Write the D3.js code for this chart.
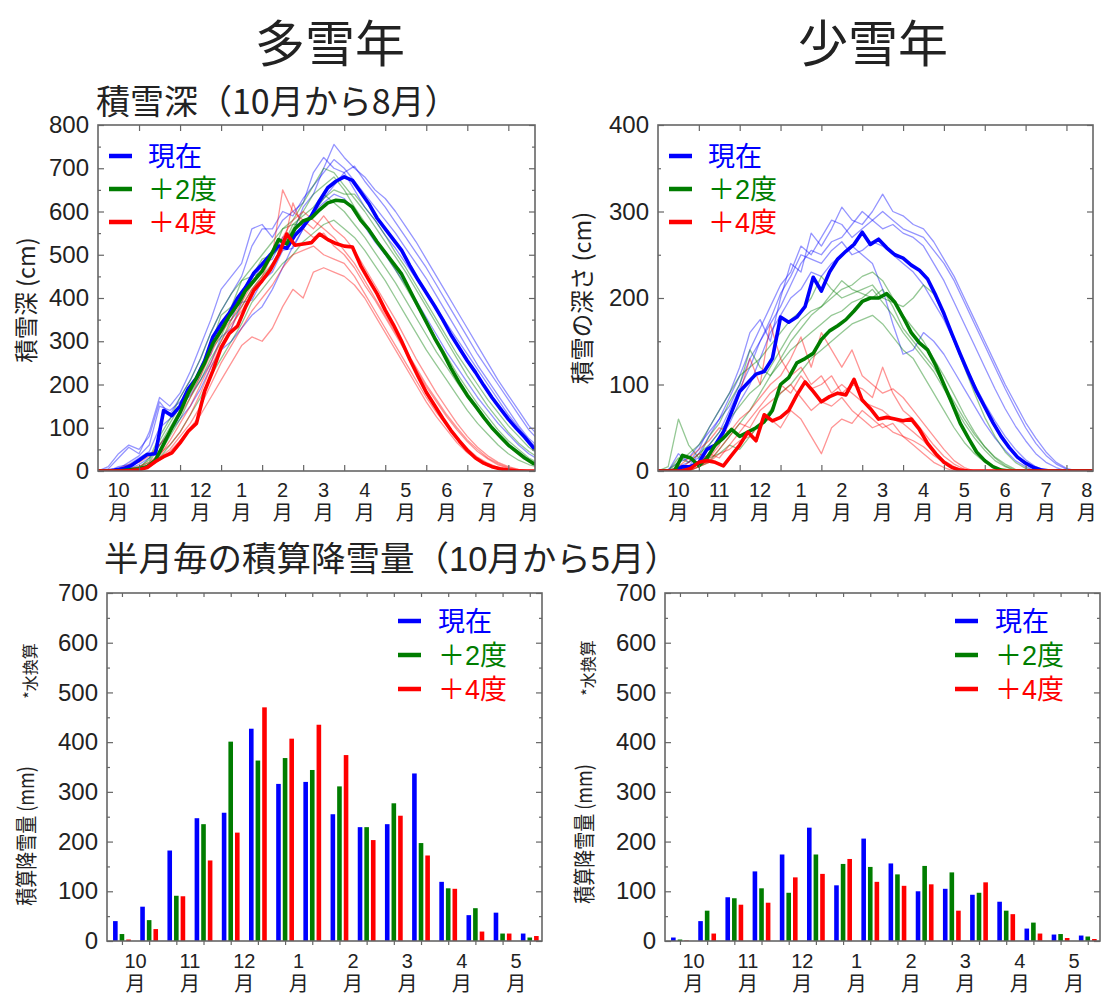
<!DOCTYPE html>
<html lang="ja">
<head>
<meta charset="utf-8">
<script src="https://cdn.jsdelivr.net/npm/d3@7"></script>
<style>
  body { margin: 0; background: #fff; }
  svg text { font-family: "Noto Sans CJK JP", sans-serif; fill: #222; }
  svg text.num { font-family: "Liberation Sans", "Noto Sans CJK JP", sans-serif; }
</style>
</head>
<body>
<svg id="chart" width="1104" height="1001" lang="ja"></svg>
<script>
// ---- Labels -------------------------------------------------------------
const SCENARIOS = ["現在", "＋2度", "＋4度"];
const DEPTH_MONTHS = ["10", "11", "12", "1", "2", "3", "4", "5", "6", "7", "8"];
const SNOWFALL_MONTHS = ["10", "11", "12", "1", "2", "3", "4", "5"];

// ---- Snow depth (cm); x is months after 1 Oct -----------------------------
const MEMBER_STEP = 0.25; // month spacing of ensemble-member samples
const MEAN_STEP = 0.2;    // month spacing of ensemble-mean samples

// Heavy-snow year, ensemble means
const HEAVY_MEAN_NOW = [0,0,2,5,12,25,38,40,140,128,150,190,215,255,310,340,365,400,425,458,478,500,520,515,545,565,590,625,655,670,680,672,645,618,585,560,535,510,475,442,412,382,350,315,285,255,228,198,170,145,120,98,78,55,40];
const HEAVY_MEAN_P2 = [0,0,0,1,3,5,10,25,62,100,135,180,215,250,295,325,358,385,418,440,462,496,535,525,560,578,585,604,620,626,624,610,580,558,530,505,480,455,418,381,345,308,275,238,205,175,150,124,100,80,60,45,30,18,12];
const HEAVY_MEAN_P4 = [0,0,0,0,1,3,8,22,33,42,65,92,110,185,232,285,318,335,380,418,440,465,500,548,522,525,528,548,535,526,520,518,475,442,410,372,338,300,258,219,182,152,122,94,70,48,30,18,10,5,2,0,0,0,0];

// Heavy-snow year, ensemble members
const HEAVY_MEMBERS_NOW = [
  [0,0,5,20,35,60,150,140,160,185,240,270,340,350,410,430,480,490,540,550,610,640,700,755,725,700,680,650,630,600,565,530,490,450,410,370,330,290,250,210,175,140,105,80],
  [0,5,30,55,40,90,170,150,180,230,290,350,420,450,480,560,570,540,580,600,620,690,725,700,690,650,610,580,545,515,480,445,410,375,340,305,270,235,200,165,130,100,70,50],
  [0,0,10,15,30,45,100,120,150,175,210,250,310,330,390,395,440,460,510,515,560,600,630,660,690,705,670,640,610,575,540,505,470,430,390,350,310,270,235,200,165,130,95,70],
  [0,0,0,5,15,30,60,90,120,150,190,240,280,300,330,360,380,420,470,520,560,600,620,640,630,600,565,530,500,465,430,395,355,315,275,240,205,170,140,110,85,60,40,25],
  [0,10,40,60,50,80,160,130,170,210,260,320,370,410,450,520,560,560,600,590,630,660,690,720,700,670,640,610,580,550,515,480,445,405,365,325,285,245,210,175,140,105,75,55]
];
const HEAVY_MEMBERS_P2 = [
  [0,0,0,5,10,25,70,110,150,190,240,290,360,380,440,450,490,500,560,580,620,660,700,690,660,630,600,565,530,495,460,420,380,340,300,260,220,185,150,120,90,65,45,30],
  [0,0,0,0,5,15,40,80,120,170,210,260,300,350,380,420,450,480,520,560,600,640,660,680,650,610,575,540,500,465,425,385,345,305,265,225,190,155,125,95,70,50,30,18],
  [0,0,0,0,0,10,30,60,90,130,170,220,260,300,340,390,420,450,480,500,530,550,570,580,560,540,510,475,440,400,360,320,280,245,210,175,140,110,85,60,40,25,15,8],
  [0,0,0,2,8,20,60,100,140,180,220,280,310,370,390,450,460,500,520,570,570,600,630,650,640,640,610,580,545,505,470,430,390,350,310,270,235,200,165,135,105,80,55,38],
  [0,0,0,3,6,30,80,120,170,210,260,320,370,410,440,470,500,530,560,570,590,610,640,620,600,570,540,505,470,435,395,355,315,275,240,205,170,140,110,85,62,42,27,15]
];
const HEAVY_MEMBERS_P4 = [
  [0,0,0,5,10,20,40,60,90,130,180,240,290,330,380,420,450,500,650,600,580,560,590,560,540,510,470,430,390,350,305,260,220,180,145,110,80,55,35,20,10,4,0,0],
  [0,0,0,0,2,10,25,45,70,100,130,170,210,250,290,310,300,330,380,420,400,460,470,460,450,430,400,360,320,280,240,200,160,125,95,65,42,25,12,5,0,0,0,0],
  [0,0,5,15,20,35,60,90,130,170,220,270,320,350,390,430,470,510,540,580,600,580,560,540,510,480,440,400,360,320,280,240,200,165,130,100,72,50,30,17,8,3,0,0],
  [0,0,0,2,5,15,30,50,80,110,150,200,250,290,330,370,400,430,470,500,510,520,500,490,480,450,410,370,330,290,250,210,170,135,105,75,52,32,18,8,3,0,0,0],
  [0,0,0,0,3,12,35,70,110,150,200,250,300,340,370,410,440,480,510,620,560,540,550,520,500,470,430,395,355,315,275,235,195,160,125,95,68,45,28,14,6,2,0,0]
];

// Light-snow year, ensemble means
const LIGHT_MEAN_NOW = [0,0,0,5,5,10,25,30,45,68,92,102,112,115,130,178,172,178,190,224,208,230,245,254,262,276,262,268,258,250,246,238,232,222,203,182,158,135,113,92,74,56,40,27,16,9,4,1,0,0,0,0,0,0,0];
const LIGHT_MEAN_P2 = [0,0,0,18,15,6,15,30,38,48,40,45,50,57,70,100,108,125,130,136,152,162,168,175,185,196,200,200,205,195,178,160,148,140,122,100,78,55,38,22,12,5,1,0,0,0,0,0,0,0,0,0,0,0,0];
const LIGHT_MEAN_P4 = [0,0,0,0,3,10,12,10,6,18,30,45,35,65,58,62,70,88,103,92,80,86,90,88,106,82,72,60,62,60,58,60,48,32,20,10,4,1,0,0,0,0,0,0,0,0,0,0,0,0,0,0,0,0,0];

// Light-snow year, ensemble members
const LIGHT_MEMBERS_NOW = [
  [0,0,20,10,25,50,70,90,120,160,175,150,200,240,230,275,260,280,305,290,285,300,320,300,295,285,280,265,245,225,200,175,150,125,100,78,56,38,22,10,3,0,0,0],
  [0,0,5,10,15,30,45,70,95,120,150,170,190,215,240,255,250,265,270,285,300,290,280,285,275,270,260,240,220,195,170,145,120,95,72,52,35,20,10,4,0,0,0,0],
  [0,0,0,5,10,20,35,55,80,100,130,160,180,200,210,230,225,240,250,260,250,240,210,170,135,140,160,150,135,115,95,75,55,38,24,12,5,0,0,0,0,0,0,0],
  [0,0,0,5,20,40,60,85,110,140,165,190,215,230,260,250,270,290,285,270,280,290,300,290,280,275,270,255,240,220,195,170,145,120,95,72,50,32,18,8,2,0,0,0],
  [0,2,10,15,30,45,60,75,100,130,150,175,205,225,250,245,240,255,265,250,255,265,260,250,240,230,215,195,175,150,125,100,78,58,40,25,13,5,0,0,0,0,0,0]
];
const LIGHT_MEMBERS_P2 = [
  [0,5,60,30,15,40,55,80,100,140,120,110,130,150,165,180,190,200,210,215,225,230,220,200,180,165,150,130,110,88,65,45,28,15,6,1,0,0,0,0,0,0,0,0],
  [0,0,10,20,30,50,70,90,110,120,130,145,160,175,185,200,225,210,200,205,210,215,200,195,190,200,215,205,180,150,120,90,62,40,22,10,3,0,0,0,0,0,0,0],
  [0,0,0,5,10,15,20,30,25,40,55,70,90,100,115,130,140,150,160,170,175,180,170,155,140,130,110,90,70,50,33,20,10,4,0,0,0,0,0,0,0,0,0,0],
  [0,0,15,10,20,30,45,60,75,90,100,120,140,160,175,185,190,205,220,210,205,200,210,190,165,150,135,120,100,80,60,42,28,16,8,2,0,0,0,0,0,0,0,0],
  [0,0,5,0,5,10,25,40,55,70,90,110,125,140,150,160,170,180,185,195,200,210,195,180,160,145,130,115,95,75,55,38,24,12,5,0,0,0,0,0,0,0,0,0]
];
const LIGHT_MEMBERS_P4 = [
  [0,0,0,10,20,15,30,60,90,130,100,170,130,110,120,100,110,90,100,90,80,75,70,60,55,45,35,22,12,5,0,0,0,0,0,0,0,0,0,0,0,0,0,0],
  [0,0,5,15,25,35,50,45,60,70,85,100,110,130,155,120,160,140,120,140,110,100,90,95,85,70,55,40,25,12,4,0,0,0,0,0,0,0,0,0,0,0,0,0],
  [0,0,0,0,5,10,20,25,35,40,55,60,50,70,60,40,20,50,60,55,70,60,50,55,40,30,20,10,4,0,0,0,0,0,0,0,0,0,0,0,0,0,0,0],
  [0,0,0,5,10,20,15,30,45,60,75,90,100,90,110,95,100,110,90,100,95,85,120,90,70,60,45,30,17,8,2,0,0,0,0,0,0,0,0,0,0,0,0,0],
  [0,0,0,0,5,12,25,40,55,50,70,80,90,100,85,70,80,75,85,70,60,50,55,45,40,35,28,18,10,4,0,0,0,0,0,0,0,0,0,0,0,0,0,0]
];

// ---- Half-monthly accumulated snowfall (mm, water equivalent) -----------
const HEAVY_SNOWFALL_NOW = [40,69,182,247,258,427,316,320,255,229,235,337,119,52,57,15];
const HEAVY_SNOWFALL_P2  = [14,42,91,235,401,363,368,344,311,229,277,197,106,66,15,7];
const HEAVY_SNOWFALL_P4  = [3,24,90,162,218,470,407,435,374,203,252,172,105,19,15,10];
const LIGHT_SNOWFALL_NOW = [7,40,88,140,174,228,112,206,156,100,105,93,79,25,13,11];
const LIGHT_SNOWFALL_P2  = [3,61,86,106,97,174,155,149,134,151,138,97,61,37,14,9];
const LIGHT_SNOWFALL_P4  = [1,15,73,77,128,135,165,119,111,114,61,118,54,15,6,4];

// ---- Styling ------------------------------------------------------------
const COLORS = ["#0000ff", "#007d00", "#ff0000"];
const FRAME = "#666";

const svg = d3.select("#chart");
const defs = svg.append("defs");

function styleAxis(sel, labelSize) {
  sel.select(".domain").remove();
  sel.selectAll(".tick line").attr("stroke", FRAME).attr("stroke-width", 1.2);
  sel.attr("font-family", null);
  sel.selectAll("text")
    .attr("class", "num")
    .attr("font-size", labelSize)
    .attr("fill", "#222");
}

function frameAndYAxes(g, x0, x1, y0, y1, y, yMax) {
  const major = d3.range(0, yMax + 1, 100);
  const minor = d3.range(50, yMax, 100);
  g.append("g").attr("transform", `translate(${x0},0)`)
    .call(d3.axisLeft(y).tickValues(major).tickSize(-6).tickPadding(9).tickFormat(d3.format("d")))
    .call(s => styleAxis(s, 24));
  g.append("g").attr("transform", `translate(${x0},0)`)
    .call(d3.axisLeft(y).tickValues(minor).tickSize(-3).tickFormat(""))
    .call(s => styleAxis(s, 0));
  g.append("g").attr("transform", `translate(${x1},0)`)
    .call(d3.axisRight(y).tickValues(major).tickSize(-6).tickFormat(""))
    .call(s => styleAxis(s, 0));
  g.append("g").attr("transform", `translate(${x1},0)`)
    .call(d3.axisRight(y).tickValues(minor).tickSize(-3).tickFormat(""))
    .call(s => styleAxis(s, 0));
  g.append("rect")
    .attr("x", x0).attr("y", y0)
    .attr("width", x1 - x0).attr("height", y1 - y0)
    .attr("fill", "none").attr("stroke", FRAME).attr("stroke-width", 1.6);
}

// Month number above "月", as one two-line label per month
function monthLabels(g, positions, labels, baseline, gap) {
  labels.forEach((lab, i) => {
    const t = g.append("text").attr("class", "num")
      .attr("text-anchor", "middle").attr("font-size", 20);
    t.append("tspan").attr("x", positions[i]).attr("y", baseline).text(lab);
    t.append("tspan").attr("x", positions[i]).attr("y", baseline + gap).text("月");
  });
}

function legend(g, lx, tx, ys) {
  SCENARIOS.forEach((name, i) => {
    g.append("line")
      .attr("x1", lx).attr("x2", lx + 23)
      .attr("y1", ys[i]).attr("y2", ys[i])
      .attr("stroke", COLORS[i]).attr("stroke-width", 4.5);
    g.append("text").attr("class", "num").attr("x", tx).attr("y", ys[i] + 10)
      .attr("font-size", 27).style("fill", COLORS[i]).text(name);
  });
}

// Rotated axis title; widen > 1 stretches glyphs across the page
function yTitle(g, x, y, text, size, widen) {
  g.append("text")
    .attr("transform", `translate(${x},${y}) rotate(-90) scale(1,${widen || 1})`)
    .attr("text-anchor", "middle")
    .attr("font-size", size)
    .text(text);
}

// ---- Snow depth panel ---------------------------------------------------
function depthPanel(o) {
  const g = svg.append("g");
  const x = d3.scaleLinear().domain([0, 10.65]).range([o.x0, o.x1]);
  const y = d3.scaleLinear().domain([0, o.yMax]).range([o.y1, o.y0]);

  defs.append("clipPath").attr("id", o.id)
    .append("rect").attr("x", o.x0).attr("y", o.y0 - 2)
    .attr("width", o.x1 - o.x0).attr("height", o.y1 - o.y0 + 2);
  const plot = g.append("g").attr("clip-path", `url(#${o.id})`);

  const memberLine = d3.line().x((d, i) => x(i * MEMBER_STEP)).y(d => y(d));
  const meanLine = d3.line().x((d, i) => x(i * MEAN_STEP)).y(d => y(d));

  o.members.forEach((set, s) => {
    set.forEach(series => {
      plot.append("path").datum(series).attr("d", memberLine)
        .attr("fill", "none").attr("stroke", COLORS[s])
        .attr("stroke-opacity", 0.42).attr("stroke-width", 1.3)
        .attr("stroke-linejoin", "round");
    });
  });
  o.means.forEach((series, s) => {
    plot.append("path").datum(series).attr("d", meanLine)
      .attr("fill", "none").attr("stroke", COLORS[s])
      .attr("stroke-width", 3.6).attr("stroke-linejoin", "round");
  });

  const monthEdges = d3.range(1, 11);
  g.append("g").attr("transform", `translate(0,${o.y1})`)
    .call(d3.axisBottom(x).tickValues(monthEdges).tickSize(-6).tickFormat(""))
    .call(s => styleAxis(s, 0));
  g.append("g").attr("transform", `translate(0,${o.y0})`)
    .call(d3.axisTop(x).tickValues(monthEdges).tickSize(-6).tickFormat(""))
    .call(s => styleAxis(s, 0));
  frameAndYAxes(g, o.x0, o.x1, o.y0, o.y1, y, o.yMax);

  monthLabels(g, DEPTH_MONTHS.map((m, i) => x(i + 0.5)), DEPTH_MONTHS, o.y1 + 26, 23);
  legend(g, o.x0 + 11, o.x0 + 50, [156, 189, 222]);
  yTitle(g, o.titleX, o.titleY, o.title, 23.5);
}

// ---- Half-monthly snowfall panel -------------------------------------------
function snowfallPanel(o) {
  const g = svg.append("g");
  const x = d3.scaleLinear().domain([-0.55, 15.45]).range([o.x0, o.x1]);
  const y = d3.scaleLinear().domain([0, 700]).range([o.y1, o.y0]);
  const barW = 4.6, barGap = 6.6;

  o.series.forEach((vals, s) => {
    g.append("g").selectAll("rect").data(vals).join("rect")
      .attr("x", (d, i) => x(i) + (s - 1) * barGap - barW / 2)
      .attr("y", d => y(d))
      .attr("width", barW)
      .attr("height", d => y(0) - y(d))
      .attr("fill", COLORS[s]);
  });

  const halfMonths = d3.range(0, 16);
  g.append("g").attr("transform", `translate(0,${o.y1})`)
    .call(d3.axisBottom(x).tickValues(halfMonths).tickSize(4).tickFormat(""))
    .call(s => styleAxis(s, 0));
  g.append("g").attr("transform", `translate(0,${o.y0})`)
    .call(d3.axisTop(x).tickValues(halfMonths).tickSize(-4).tickFormat(""))
    .call(s => styleAxis(s, 0));
  frameAndYAxes(g, o.x0, o.x1, o.y0, o.y1, y, 700);

  monthLabels(g, SNOWFALL_MONTHS.map((m, i) => x(2 * i + 0.5)), SNOWFALL_MONTHS, o.y1 + 27, 23);
  legend(g, o.legendX, o.legendX + 40, [621, 655, 689]);
  yTitle(g, o.titleX, o.titleY, "積算降雪量 (mm)", 18, 1.18);
  yTitle(g, o.titleX + 2, o.noteY, "*水換算", 16);
}

// ---- Headings -----------------------------------------------------------
svg.append("text").attr("x", 330).attr("y", 62).attr("text-anchor", "middle")
  .attr("font-size", 50).text("多雪年");
svg.append("text").attr("x", 873).attr("y", 62).attr("text-anchor", "middle")
  .attr("font-size", 50).text("少雪年");
svg.append("text").attr("x", 96).attr("y", 114).attr("font-size", 34)
  .text("積雪深（10月から8月）");
svg.append("text").attr("class", "num").attr("x", 104).attr("y", 571).attr("font-size", 34.5)
  .text("半月毎の積算降雪量（10月から5月）");

// ---- Panels -------------------------------------------------------------
depthPanel({
  id: "clip-heavy", x0: 98, x1: 535, y0: 125, y1: 471, yMax: 800,
  members: [HEAVY_MEMBERS_NOW, HEAVY_MEMBERS_P2, HEAVY_MEMBERS_P4],
  means: [HEAVY_MEAN_NOW, HEAVY_MEAN_P2, HEAVY_MEAN_P4],
  title: "積雪深 (cm)", titleX: 35, titleY: 300
});
depthPanel({
  id: "clip-light", x0: 658, x1: 1093, y0: 125, y1: 471, yMax: 400,
  members: [LIGHT_MEMBERS_NOW, LIGHT_MEMBERS_P2, LIGHT_MEMBERS_P4],
  means: [LIGHT_MEAN_NOW, LIGHT_MEAN_P2, LIGHT_MEAN_P4],
  title: "積雪の深さ (cm)", titleX: 591, titleY: 298
});
snowfallPanel({
  x0: 107, x1: 542, y0: 593, y1: 941, legendX: 398,
  series: [HEAVY_SNOWFALL_NOW, HEAVY_SNOWFALL_P2, HEAVY_SNOWFALL_P4],
  titleX: 34, titleY: 836, noteY: 671
});
snowfallPanel({
  x0: 665, x1: 1100, y0: 593, y1: 941, legendX: 955,
  series: [LIGHT_SNOWFALL_NOW, LIGHT_SNOWFALL_P2, LIGHT_SNOWFALL_P4],
  titleX: 592, titleY: 834, noteY: 668
});
</script>
</body>
</html>
